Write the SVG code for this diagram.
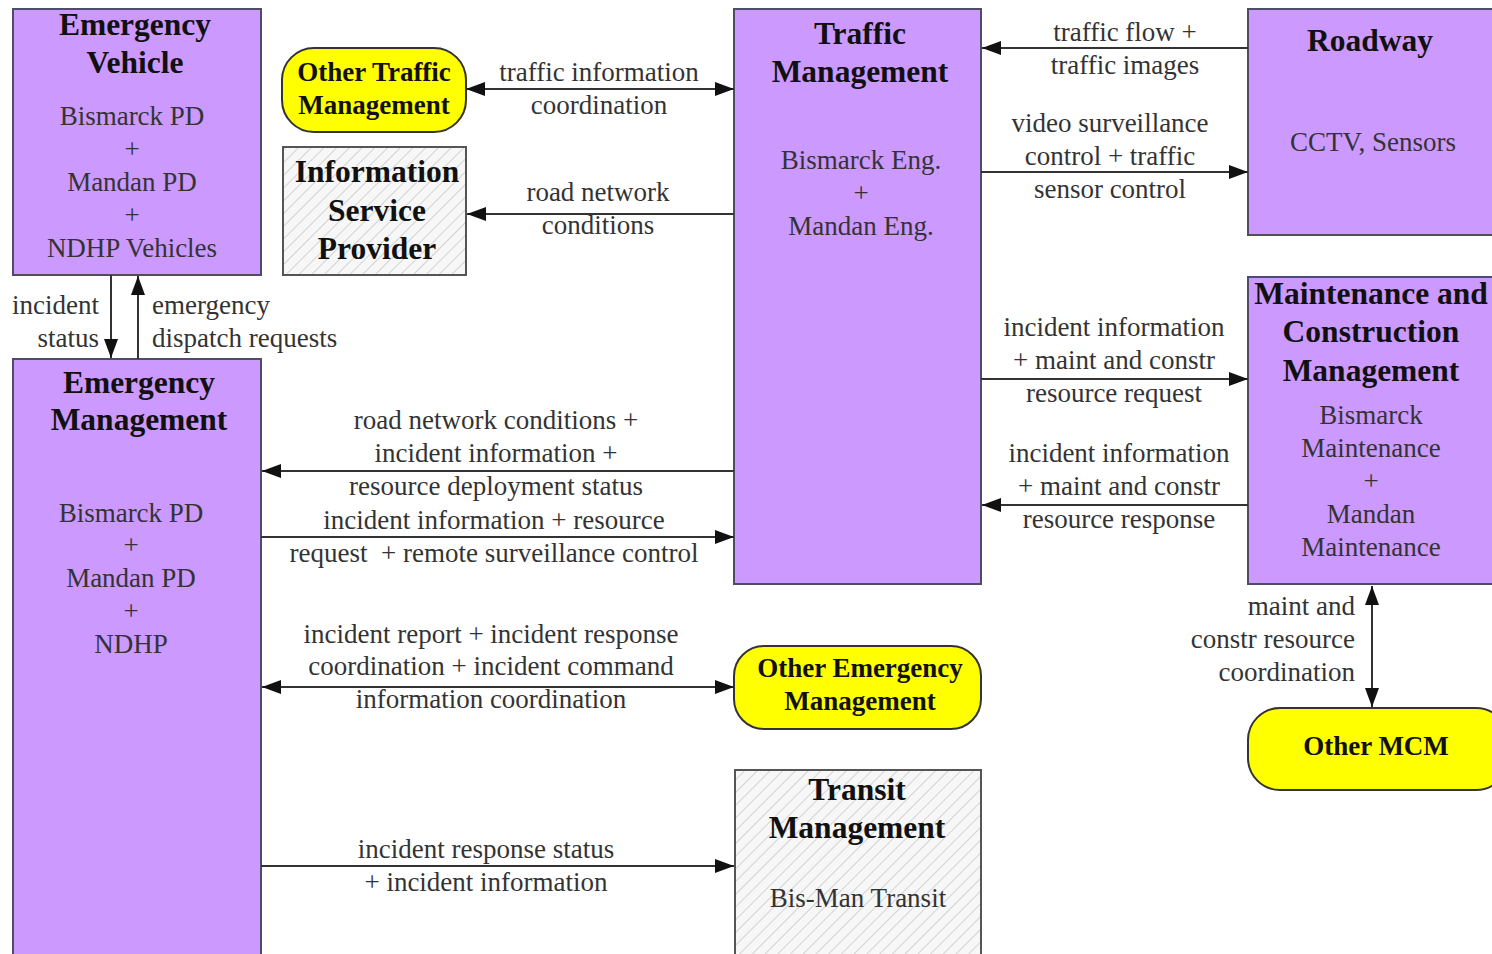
<svg xmlns="http://www.w3.org/2000/svg" width="1492" height="954" viewBox="0 0 1492 954">
<style>
.box{fill:#cc99ff;stroke:#4d4d66;stroke-width:2}
.ext{fill:#ffff00;stroke:#333;stroke-width:2}
.hat{fill:url(#hatch);stroke:#555;stroke-width:2}
.t{font-family:"Liberation Serif","Times New Roman",serif;font-weight:bold;font-size:31.5px;fill:#111;text-anchor:middle}
.ts{font-family:"Liberation Serif","Times New Roman",serif;font-weight:bold;font-size:27px;fill:#111;text-anchor:middle}
.b{font-family:"Liberation Serif","Times New Roman",serif;font-size:27px;fill:#333;text-anchor:middle}
.l{font-family:"Liberation Serif","Times New Roman",serif;font-size:27px;fill:#333;text-anchor:middle}
.c{fill:none;stroke:#333;stroke-width:2}
</style>
<defs>
<pattern id="hatch" patternUnits="userSpaceOnUse" width="9" height="9" patternTransform="rotate(45)">
<rect width="9" height="9" fill="#f7f7f7"/>
<line x1="0" y1="0" x2="0" y2="9" stroke="#c8c8c8" stroke-width="1.5"/>
</pattern>
<marker id="ah" markerUnits="userSpaceOnUse" markerWidth="20" markerHeight="16" refX="19" refY="8" orient="auto-start-reverse">
<path d="M0,1 L19,8 L0,15 z" fill="#111"/>
</marker>
</defs>
<rect width="1492" height="954" fill="#fff"/>

<g id="emergency-vehicle">
<rect class="box" x="13" y="9" width="248" height="266"/>
<text class="t" x="135" y="35">Emergency</text>
<text class="t" x="135" y="73">Vehicle</text>
<text class="b" x="132" y="125">Bismarck PD</text>
<text class="b" x="132" y="158">+</text>
<text class="b" x="132" y="191">Mandan PD</text>
<text class="b" x="132" y="224">+</text>
<text class="b" x="132" y="257">NDHP Vehicles</text>
</g>

<g id="other-traffic-management">
<rect class="ext" x="282" y="48" width="184" height="84" rx="32"/>
<text class="ts" x="374" y="81">Other Traffic</text>
<text class="ts" x="374" y="114">Management</text>
</g>

<g id="information-service-provider">
<rect class="hat" x="283" y="147" width="183" height="128"/>
<text class="t" x="377" y="182">Information</text>
<text class="t" x="377" y="221">Service</text>
<text class="t" x="377" y="259">Provider</text>
</g>

<g id="traffic-management">
<rect class="box" x="734" y="9" width="247" height="575"/>
<text class="t" x="860" y="44">Traffic</text>
<text class="t" x="860" y="82">Management</text>
<text class="b" x="861" y="169">Bismarck Eng.</text>
<text class="b" x="861" y="202">+</text>
<text class="b" x="861" y="235">Mandan Eng.</text>
</g>

<g id="roadway">
<rect class="box" x="1248" y="9" width="250" height="226"/>
<text class="t" x="1370" y="51">Roadway</text>
<text class="b" x="1373" y="151">CCTV, Sensors</text>
</g>

<g id="maintenance-construction">
<rect class="box" x="1248" y="277" width="250" height="307"/>
<text class="t" x="1371" y="304">Maintenance and</text>
<text class="t" x="1371" y="342">Construction</text>
<text class="t" x="1371" y="381">Management</text>
<text class="b" x="1371" y="424">Bismarck</text>
<text class="b" x="1371" y="457">Maintenance</text>
<text class="b" x="1371" y="490">+</text>
<text class="b" x="1371" y="523">Mandan</text>
<text class="b" x="1371" y="556">Maintenance</text>
</g>

<g id="emergency-management">
<rect class="box" x="13" y="359" width="248" height="605"/>
<text class="t" x="139" y="393">Emergency</text>
<text class="t" x="139" y="430">Management</text>
<text class="b" x="131" y="522">Bismarck PD</text>
<text class="b" x="131" y="554">+</text>
<text class="b" x="131" y="587">Mandan PD</text>
<text class="b" x="131" y="620">+</text>
<text class="b" x="131" y="653">NDHP</text>
</g>

<g id="other-emergency-management">
<rect class="ext" x="734" y="646" width="247" height="83" rx="30"/>
<text class="ts" x="860" y="677">Other Emergency</text>
<text class="ts" x="860" y="710">Management</text>
</g>

<g id="other-mcm">
<rect class="ext" x="1248" y="708" width="260" height="82" rx="32"/>
<text class="ts" x="1376" y="755">Other MCM</text>
</g>

<g id="transit-management">
<rect class="hat" x="735" y="770" width="246" height="194"/>
<text class="t" x="857" y="800">Transit</text>
<text class="t" x="857" y="838">Management</text>
<text class="b" x="858" y="907">Bis-Man Transit</text>
</g>

<g id="connectors">
<path class="c" d="M466,89 H734" marker-start="url(#ah)" marker-end="url(#ah)"/>
<path class="c" d="M734,214 H467" marker-end="url(#ah)"/>
<path class="c" d="M1248,48 H982" marker-end="url(#ah)"/>
<path class="c" d="M981,172 H1248" marker-end="url(#ah)"/>
<path class="c" d="M981,379 H1248" marker-end="url(#ah)"/>
<path class="c" d="M1248,505 H982" marker-end="url(#ah)"/>
<path class="c" d="M1372,586 V707" marker-start="url(#ah)" marker-end="url(#ah)"/>
<path class="c" d="M111,275 V358" marker-end="url(#ah)"/>
<path class="c" d="M138,359 V276" marker-end="url(#ah)"/>
<path class="c" d="M734,471 H262" marker-end="url(#ah)"/>
<path class="c" d="M261,537 H734" marker-end="url(#ah)"/>
<path class="c" d="M262,687 H734" marker-start="url(#ah)" marker-end="url(#ah)"/>
<path class="c" d="M261,866 H734" marker-end="url(#ah)"/>

<text class="l" x="599" y="81">traffic information</text>
<text class="l" x="599" y="114">coordination</text>
<text class="l" x="598" y="201">road network</text>
<text class="l" x="598" y="234">conditions</text>
<text class="l" x="1125" y="41">traffic flow +</text>
<text class="l" x="1125" y="74">traffic images</text>
<text class="l" x="1110" y="132">video surveillance</text>
<text class="l" x="1110" y="165">control + traffic</text>
<text class="l" x="1110" y="198">sensor control</text>
<text class="l" x="1114" y="336">incident information</text>
<text class="l" x="1114" y="369">+ maint and constr</text>
<text class="l" x="1114" y="402">resource request</text>
<text class="l" x="1119" y="462">incident information</text>
<text class="l" x="1119" y="495">+ maint and constr</text>
<text class="l" x="1119" y="528">resource response</text>
<text class="l" x="1355" y="615" style="text-anchor:end">maint and</text>
<text class="l" x="1355" y="648" style="text-anchor:end">constr resource</text>
<text class="l" x="1355" y="681" style="text-anchor:end">coordination</text>
<text class="l" x="99" y="314" style="text-anchor:end">incident</text>
<text class="l" x="99" y="347" style="text-anchor:end">status</text>
<text class="l" x="152" y="314" style="text-anchor:start">emergency</text>
<text class="l" x="152" y="347" style="text-anchor:start">dispatch requests</text>
<text class="l" x="496" y="429">road network conditions +</text>
<text class="l" x="496" y="462">incident information +</text>
<text class="l" x="496" y="495">resource deployment status</text>
<text class="l" x="494" y="529">incident information + resource</text>
<text class="l" x="494" y="562">request &#160;+ remote surveillance control</text>
<text class="l" x="491" y="643">incident report + incident response</text>
<text class="l" x="491" y="675">coordination + incident command</text>
<text class="l" x="491" y="708">information coordination</text>
<text class="l" x="486" y="858">incident response status</text>
<text class="l" x="486" y="891">+ incident information</text>
</g>
</svg>
